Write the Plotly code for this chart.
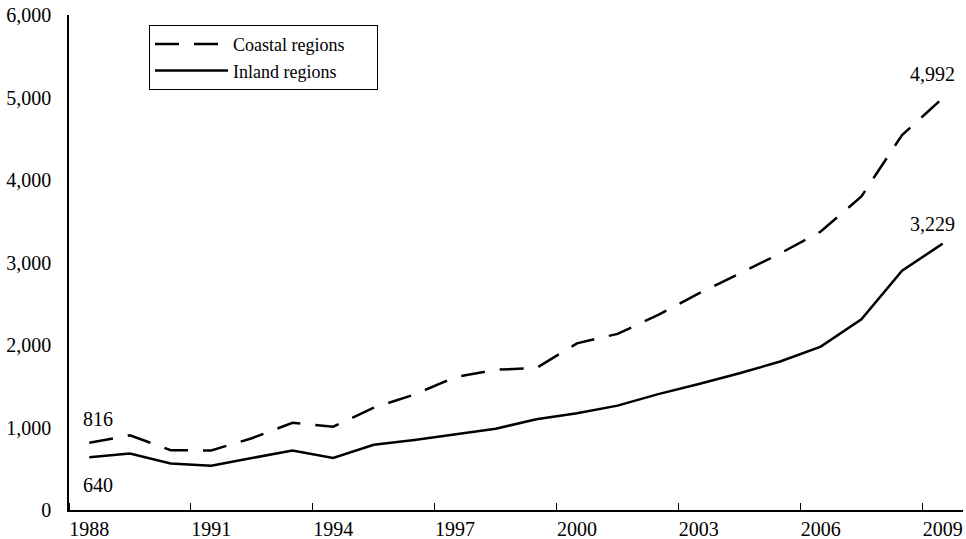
import plotly.graph_objects as go

years = list(range(1988, 2010))
coastal = [816, 905, 725, 722, 870, 1058, 1010, 1240, 1400, 1610, 1700, 1720,
           2020, 2135, 2365, 2625, 2865, 3110, 3375, 3800, 4545, 4992]
inland = [640, 685, 565, 536, 630, 722, 630, 790, 848, 920, 985, 1100,
          1172, 1265, 1405, 1527, 1657, 1800, 1980, 2311, 2900, 3229]
tick_years = [1988, 1991, 1994, 1997, 2000, 2003, 2006, 2009]
y_ticks = [0, 1000, 2000, 3000, 4000, 5000, 6000]
y_tick_labels = ["0", "1,000", "2,000", "3,000", "4,000", "5,000", "6,000"]
series_names = ["Coastal regions", "Inland regions"]

FONT = "Liberation Serif"
PAD = "\u00a0" * 6

fig = go.Figure()
fig.add_trace(go.Scatter(x=years, y=coastal, mode="lines", name=series_names[0] + PAD,
                         line=dict(color="black", width=2.5, dash="24px,15px")))
fig.add_trace(go.Scatter(x=years, y=inland, mode="lines", name=series_names[1] + PAD,
                         line=dict(color="black", width=2.5)))

def fmt(v):
    return f"{v:,}"

annots = [
    dict(x=years[0], y=coastal[0], text=fmt(coastal[0]), xshift=9, yshift=24),
    dict(x=years[0], y=inland[0], text=fmt(inland[0]), xshift=9, yshift=-28),
    dict(x=years[-1], y=coastal[-1], text=fmt(coastal[-1]), xshift=-10, yshift=24),
    dict(x=years[-1], y=inland[-1], text=fmt(inland[-1]), xshift=-10, yshift=20),
]
for a in annots:
    fig.add_annotation(**a, showarrow=False, xanchor="center", yanchor="middle",
                       font=dict(family=FONT, size=20, color="black"))

fig.update_layout(
    width=966, height=539,
    margin=dict(l=69, r=3, t=15, b=29),
    paper_bgcolor="white", plot_bgcolor="white",
    font=dict(family=FONT, size=20, color="black"),
    showlegend=True,
    legend=dict(x=0.0895, y=0.98, xanchor="left", yanchor="top",
                bordercolor="black", borderwidth=1, bgcolor="white",
                font=dict(family=FONT, size=18, color="black"),
                tracegroupgap=0, itemwidth=73),
)
fig.update_xaxes(
    range=[years[0] - 0.5, years[-1] + 0.5],
    showline=True, linecolor="black", linewidth=1.5,
    showgrid=False, zeroline=False, automargin=False,
    tickmode="array", tickvals=tick_years, ticktext=[str(t) for t in tick_years],
    ticks="", ticklabelstandoff=0,
    minor=dict(tickmode="array", tickvals=[t - 0.5 for t in tick_years],
               ticks="inside", ticklen=7, tickwidth=1.2, tickcolor="black", showgrid=False),
)
fig.update_yaxes(
    range=[0, 6000],
    showline=True, linecolor="black", linewidth=1.5,
    showgrid=False, zeroline=False, automargin=False,
    tickmode="array", tickvals=y_ticks, ticktext=y_tick_labels,
    ticks="", ticklabelstandoff=12,
)

fig.write_html("out.html", config={"displayModeBar": False},
               post_script="document.body.style.margin='0';document.body.style.overflow='hidden';")
